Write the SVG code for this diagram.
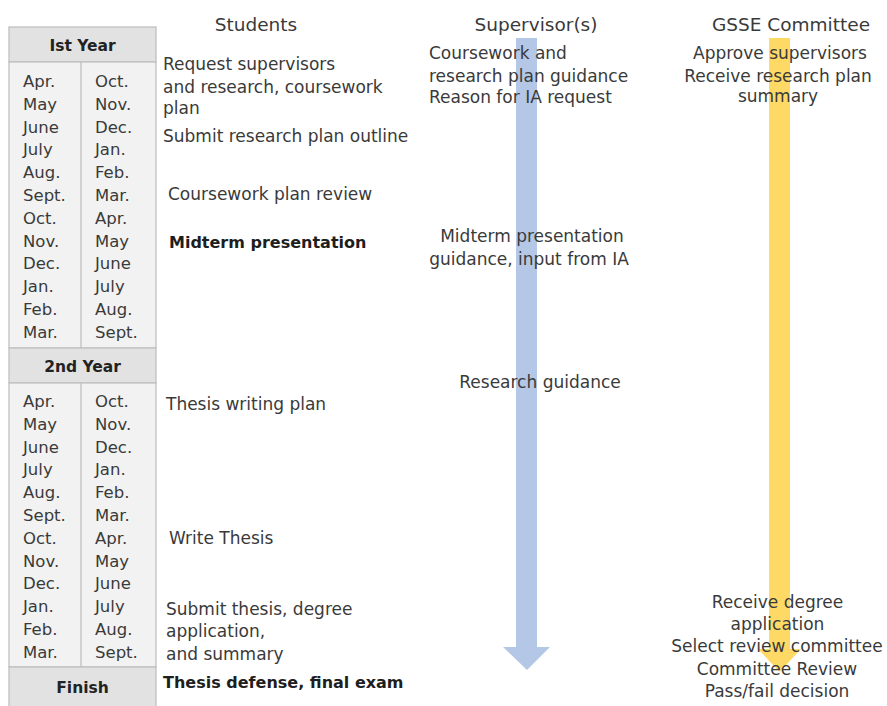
<svg xmlns="http://www.w3.org/2000/svg" width="887" height="706" viewBox="0 0 887 706">
<style>
text{font-family:"DejaVu Sans","Noto Sans",sans-serif;fill:#3a3a3a;font-size:17px}
.hd{font-size:18.5px;text-anchor:middle}
.th{font-weight:bold;font-size:15.5px;text-anchor:middle;fill:#222}
.b{font-weight:bold;font-size:16px;fill:#1e1e1e}
.m{font-size:16.5px}
.c{text-anchor:middle}
.hdr{fill:#e2e2e2;stroke:#c0c0c0;stroke-width:1.3}
.mon{fill:#f2f2f2;stroke:#c0c0c0;stroke-width:1.3}
</style>
<rect width="887" height="706" fill="#ffffff"/>

<g id="connectors">
  <g id="supervisor-arrow" fill="#b4c7e7">
    <rect x="516" y="38" width="21" height="610"/>
    <polygon points="503,647 550,647 527,670"/>
  </g>
  <g id="committee-arrow" fill="#ffd966">
    <rect x="769" y="38" width="21" height="612"/>
    <polygon points="758,649 801,649 779.5,672"/>
  </g>
</g>

<g id="timeline-table">
  <g id="year1-header">
    <rect class="hdr" x="9" y="27" width="147" height="35"/>
    <text class="th" x="82.5" y="51">Ist Year</text>
  </g>
  <g id="year1-months">
    <rect class="mon" x="9" y="62" width="147" height="286"/>
    <line x1="81" y1="62" x2="81" y2="348" stroke="#c0c0c0" stroke-width="1.3"/>
    <text class="m" x="23" y="87">Apr.</text>
    <text class="m" x="23" y="109.8">May</text>
    <text class="m" x="23" y="132.6">June</text>
    <text class="m" x="23" y="155.4">July</text>
    <text class="m" x="23" y="178.2">Aug.</text>
    <text class="m" x="23" y="201">Sept.</text>
    <text class="m" x="23" y="223.8">Oct.</text>
    <text class="m" x="23" y="246.6">Nov.</text>
    <text class="m" x="23" y="269.4">Dec.</text>
    <text class="m" x="23" y="292.2">Jan.</text>
    <text class="m" x="23" y="315">Feb.</text>
    <text class="m" x="23" y="337.8">Mar.</text>
    <text class="m" x="95" y="87">Oct.</text>
    <text class="m" x="95" y="109.8">Nov.</text>
    <text class="m" x="95" y="132.6">Dec.</text>
    <text class="m" x="95" y="155.4">Jan.</text>
    <text class="m" x="95" y="178.2">Feb.</text>
    <text class="m" x="95" y="201">Mar.</text>
    <text class="m" x="95" y="223.8">Apr.</text>
    <text class="m" x="95" y="246.6">May</text>
    <text class="m" x="95" y="269.4">June</text>
    <text class="m" x="95" y="292.2">July</text>
    <text class="m" x="95" y="315">Aug.</text>
    <text class="m" x="95" y="337.8">Sept.</text>
  </g>
  <g id="year2-header">
    <rect class="hdr" x="9" y="348" width="147" height="35"/>
    <text class="th" x="82.5" y="372">2nd Year</text>
  </g>
  <g id="year2-months">
    <rect class="mon" x="9" y="383" width="147" height="284"/>
    <line x1="81" y1="383" x2="81" y2="667" stroke="#c0c0c0" stroke-width="1.3"/>
    <text class="m" x="23" y="407">Apr.</text>
    <text class="m" x="23" y="429.8">May</text>
    <text class="m" x="23" y="452.6">June</text>
    <text class="m" x="23" y="475.4">July</text>
    <text class="m" x="23" y="498.2">Aug.</text>
    <text class="m" x="23" y="521">Sept.</text>
    <text class="m" x="23" y="543.8">Oct.</text>
    <text class="m" x="23" y="566.6">Nov.</text>
    <text class="m" x="23" y="589.4">Dec.</text>
    <text class="m" x="23" y="612.2">Jan.</text>
    <text class="m" x="23" y="635">Feb.</text>
    <text class="m" x="23" y="657.8">Mar.</text>
    <text class="m" x="95" y="407">Oct.</text>
    <text class="m" x="95" y="429.8">Nov.</text>
    <text class="m" x="95" y="452.6">Dec.</text>
    <text class="m" x="95" y="475.4">Jan.</text>
    <text class="m" x="95" y="498.2">Feb.</text>
    <text class="m" x="95" y="521">Mar.</text>
    <text class="m" x="95" y="543.8">Apr.</text>
    <text class="m" x="95" y="566.6">May</text>
    <text class="m" x="95" y="589.4">June</text>
    <text class="m" x="95" y="612.2">July</text>
    <text class="m" x="95" y="635">Aug.</text>
    <text class="m" x="95" y="657.8">Sept.</text>
  </g>
  <g id="finish-header">
    <rect class="hdr" x="9" y="667" width="147" height="45"/>
    <text class="th" x="82.5" y="693">Finish</text>
  </g>
</g>

<g id="column-headers">
  <text class="hd" x="256" y="31">Students</text>
  <text class="hd" x="536" y="31">Supervisor(s)</text>
  <text class="hd" x="791" y="31">GSSE Committee</text>
</g>

<g id="students">
  <g id="s-request"><text x="163" y="70">Request supervisors</text><text x="163" y="92.5">and research, coursework</text><text x="163" y="114">plan</text></g>
  <g id="s-submit-outline"><text x="163" y="141.5">Submit research plan outline</text></g>
  <g id="s-coursework-review"><text x="168" y="200">Coursework plan review</text></g>
  <g id="s-midterm"><text class="b" x="169" y="248">Midterm presentation</text></g>
  <g id="s-writing-plan"><text x="166" y="410">Thesis writing plan</text></g>
  <g id="s-write"><text x="169" y="544">Write Thesis</text></g>
  <g id="s-submit-thesis"><text x="166" y="615">Submit thesis, degree</text><text x="166" y="637">application,</text><text x="166" y="660">and summary</text></g>
  <g id="s-defense"><text class="b" x="163" y="688">Thesis defense, final exam</text></g>
</g>

<g id="supervisors">
  <g id="v-guidance"><text x="429" y="59">Coursework and</text><text x="429" y="82">research plan guidance</text><text x="429" y="103">Reason for IA request</text></g>
  <g id="v-midterm"><text class="c" x="532" y="242">Midterm presentation</text><text class="c" x="529" y="265">guidance, input from IA</text></g>
  <g id="v-research"><text class="c" x="540" y="388">Research guidance</text></g>
</g>

<g id="committee">
  <g id="c-approve"><text class="c" x="780" y="59">Approve supervisors</text><text class="c" x="778" y="82">Receive research plan</text><text class="c" x="778" y="102">summary</text></g>
  <g id="c-review"><text class="c" x="777.5" y="608">Receive degree</text><text class="c" x="777.5" y="630">application</text><text class="c" x="777" y="652">Select review committee</text><text class="c" x="777" y="675">Committee Review</text><text class="c" x="777" y="697">Pass/fail decision</text></g>
</g>
</svg>
